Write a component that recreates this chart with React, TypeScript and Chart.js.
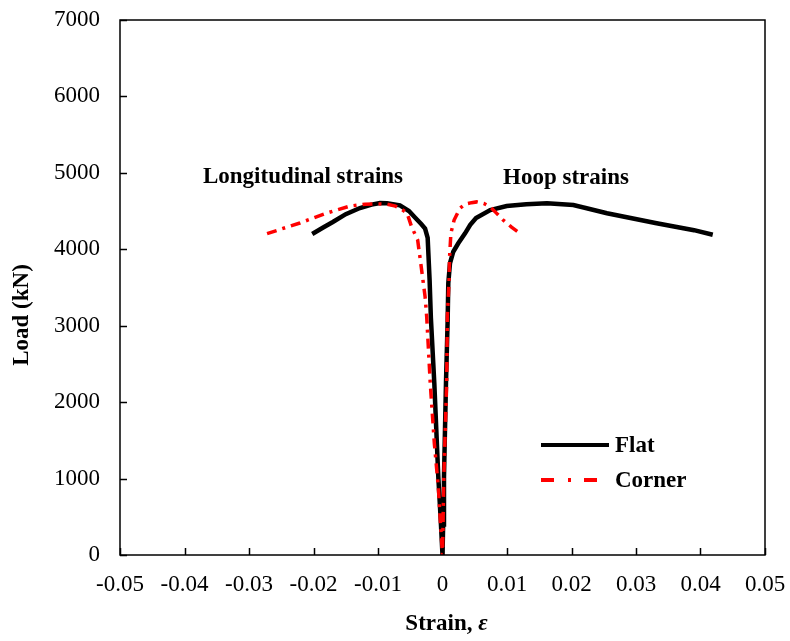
import React, { useEffect, useRef } from "react";
import { Chart, registerables } from "chart.js";

Chart.register(...registerables);

const FONT = '"Liberation Serif", "Times New Roman", Times, serif';

// Flat: longitudinal branch (negative strains) then hoop branch (positive strains)
const flatStrain = [
  -0.0202, -0.0185, -0.017, -0.015, -0.0128, -0.011, -0.0097, -0.0086, -0.0066, -0.0052,
  -0.0043, -0.0033, -0.0027, -0.0023, -0.002, -0.0018, -0.00127, -0.00065, -0.0003, 0,
  0.0001, 0.00023, 0.00054, 0.0008, 0.0009, 0.00116, 0.00167, 0.00245, 0.0035, 0.0043,
  0.0052, 0.0074, 0.00995, 0.013, 0.0162, 0.0203, 0.0255, 0.0332, 0.039, 0.0419,
];
const flatLoad = [
  4200, 4285, 4357, 4460, 4540, 4585, 4606, 4603, 4575, 4500,
  4420, 4330, 4270, 4150, 3600, 3100, 2250, 1020, 500, 0,
  400, 1020, 2250, 3075, 3559, 3817, 3968, 4078, 4209, 4320,
  4410, 4514, 4566, 4590, 4601, 4580, 4471, 4340, 4250, 4190,
];

// Corner
const cornerStrain = [
  -0.0272, -0.025, -0.0221, -0.02, -0.0179, -0.0143, -0.012, -0.0102, -0.0086, -0.0073,
  -0.0063, -0.0055, -0.0048, -0.00385, -0.0033, -0.0027, -0.00245, -0.0019, -0.00127, -0.00065,
  -0.0003, 0, 0.0002, 0.00065, 0.00075, 0.001, 0.0011, 0.0013, 0.0018, 0.0027,
  0.0035, 0.0045, 0.0053, 0.0064, 0.0074, 0.0084, 0.0094, 0.0107, 0.012,
];
const cornerLoad = [
  4205, 4265, 4344, 4410, 4475, 4566, 4590, 4595, 4590, 4565,
  4520, 4475, 4296, 4121, 3772, 3380, 3118, 2250, 1465, 890,
  400, 0, 1000, 2250, 3118, 3559, 3903, 4209, 4383, 4536,
  4590, 4610, 4620, 4600, 4555, 4470, 4383, 4290, 4209,
];

const seriesNames = ["Flat", "Corner"];
const annotationTexts = ["Longitudinal strains", "Hoop strains"];
const xTitle = "Strain, ";
const xTitleSymbol = "ε";
const yTitle = "Load (kN)";
const xMin = -0.05, xMax = 0.05, xStep = 0.01;
const yMin = 0, yMax = 7000, yStep = 1000;

const toPoints = (xs: number[], ys: number[]) => xs.map((x, i) => ({ x, y: ys[i] }));

export default function App() {
  const ref = useRef<HTMLCanvasElement>(null);

  useEffect(() => {
    const canvas = ref.current;
    if (!canvas) return;

    const decor = {
      id: "decor",
      afterDraw(chart: any) {
        const { ctx, chartArea: a, scales } = chart;
        const xs = scales.x, ys = scales.y;
        ctx.save();
        // frame
        ctx.strokeStyle = "#000";
        ctx.lineWidth = 1.5;
        ctx.strokeRect(a.left, a.top, a.right - a.left, a.bottom - a.top);
        // inward tick marks
        ctx.beginPath();
        xs.ticks.forEach((t: any) => {
          const p = Math.round(xs.getPixelForValue(t.value)) + 0.5;
          ctx.moveTo(p, a.bottom);
          ctx.lineTo(p, a.bottom - 7);
        });
        ys.ticks.forEach((t: any) => {
          const p = Math.round(ys.getPixelForValue(t.value)) + 0.5;
          ctx.moveTo(a.left, p);
          ctx.lineTo(a.left + 7, p);
        });
        ctx.stroke();

        // annotations
        ctx.fillStyle = "#000";
        ctx.font = `bold 23px ${FONT}`;
        ctx.textAlign = "center";
        ctx.textBaseline = "alphabetic";
        ctx.fillText(annotationTexts[0], a.left + 183, 183);
        ctx.fillText(annotationTexts[1], a.left + 446, 184);

        // legend
        const lx0 = a.left + 421, lx1 = a.left + 489, tx = a.left + 495;
        ctx.lineWidth = 4;
        ctx.strokeStyle = "#000";
        ctx.setLineDash([]);
        ctx.beginPath();
        ctx.moveTo(lx0, 445);
        ctx.lineTo(lx1, 445);
        ctx.stroke();
        ctx.strokeStyle = "#ff0000";
        ctx.setLineDash([13, 14, 3, 13]);
        ctx.beginPath();
        ctx.moveTo(lx0, 480);
        ctx.lineTo(lx1, 480);
        ctx.stroke();
        ctx.setLineDash([]);
        ctx.textAlign = "left";
        ctx.textBaseline = "middle";
        ctx.fillText(seriesNames[0], tx, 446);
        ctx.fillText(seriesNames[1], tx, 481);

        // y title
        ctx.save();
        ctx.translate(22, 315);
        ctx.rotate(-Math.PI / 2);
        ctx.textAlign = "center";
        ctx.textBaseline = "middle";
        ctx.font = `bold 23px ${FONT}`;
        ctx.fillText(yTitle, 0, 0);
        ctx.restore();

        // x title with italic epsilon
        ctx.font = `bold 23px ${FONT}`;
        const w1 = ctx.measureText(xTitle).width;
        ctx.font = `italic bold 23px ${FONT}`;
        const w2 = ctx.measureText(xTitleSymbol).width;
        const cx = (a.left + a.right) / 2 + 4;
        const start = cx - (w1 + w2) / 2;
        ctx.textAlign = "left";
        ctx.textBaseline = "alphabetic";
        ctx.font = `bold 23px ${FONT}`;
        ctx.fillText(xTitle, start, 630);
        ctx.font = `italic bold 23px ${FONT}`;
        ctx.fillText(xTitleSymbol, start + w1, 630);
        ctx.restore();
      },
    };

    const chart = new Chart(canvas, {
      type: "line",
      data: {
        datasets: [
          {
            label: seriesNames[0],
            data: toPoints(flatStrain, flatLoad),
            borderColor: "#000000",
            borderWidth: 4.5,
            pointRadius: 0,
            tension: 0,
            fill: false,
            order: 2,
          },
          {
            label: seriesNames[1],
            data: toPoints(cornerStrain, cornerLoad),
            borderColor: "#ff0000",
            borderWidth: 3.5,
            borderDash: [10, 6, 3, 6],
            pointRadius: 0,
            tension: 0,
            fill: false,
            order: 1,
          },
        ],
      },
      options: {
        responsive: false,
        animation: false,
        devicePixelRatio: 1,
        layout: { padding: { top: 20, right: 25, left: 0, bottom: 0 } },
        plugins: {
          legend: { display: false },
          tooltip: { enabled: false },
        },
        scales: {
          x: {
            type: "linear",
            min: xMin,
            max: xMax,
            grid: { display: false, drawTicks: false },
            border: { display: false },
            ticks: {
              stepSize: xStep,
              padding: 16,
              color: "#000",
              font: { family: FONT, size: 23 },
              maxRotation: 0,
              autoSkip: false,
              callback: (v: any) => {
                const n = Number(Number(v).toFixed(2));
                return n === 0 ? "0" : String(n);
              },
            },
            afterFit: (s: any) => {
              s.height = 86;
              s.paddingLeft = 0;
              s.paddingRight = 0;
            },
          },
          y: {
            type: "linear",
            min: yMin,
            max: yMax,
            grid: { display: false, drawTicks: false },
            border: { display: false },
            ticks: {
              stepSize: yStep,
              padding: 20,
              color: "#000",
              font: { family: FONT, size: 23 },
              callback: (v: any) => String(v),
            },
            afterFit: (s: any) => {
              s.width = 120;
              s.paddingTop = 0;
              s.paddingBottom = 0;
            },
          },
        },
      },
      plugins: [decor],
    } as any);

    return () => chart.destroy();
  }, []);

  return (
    <div style={{ position: "absolute", left: 0, top: 0, width: 790, height: 641, background: "#fff" }}>
      <canvas ref={ref} width={790} height={641} style={{ display: "block" }} />
    </div>
  );
}
